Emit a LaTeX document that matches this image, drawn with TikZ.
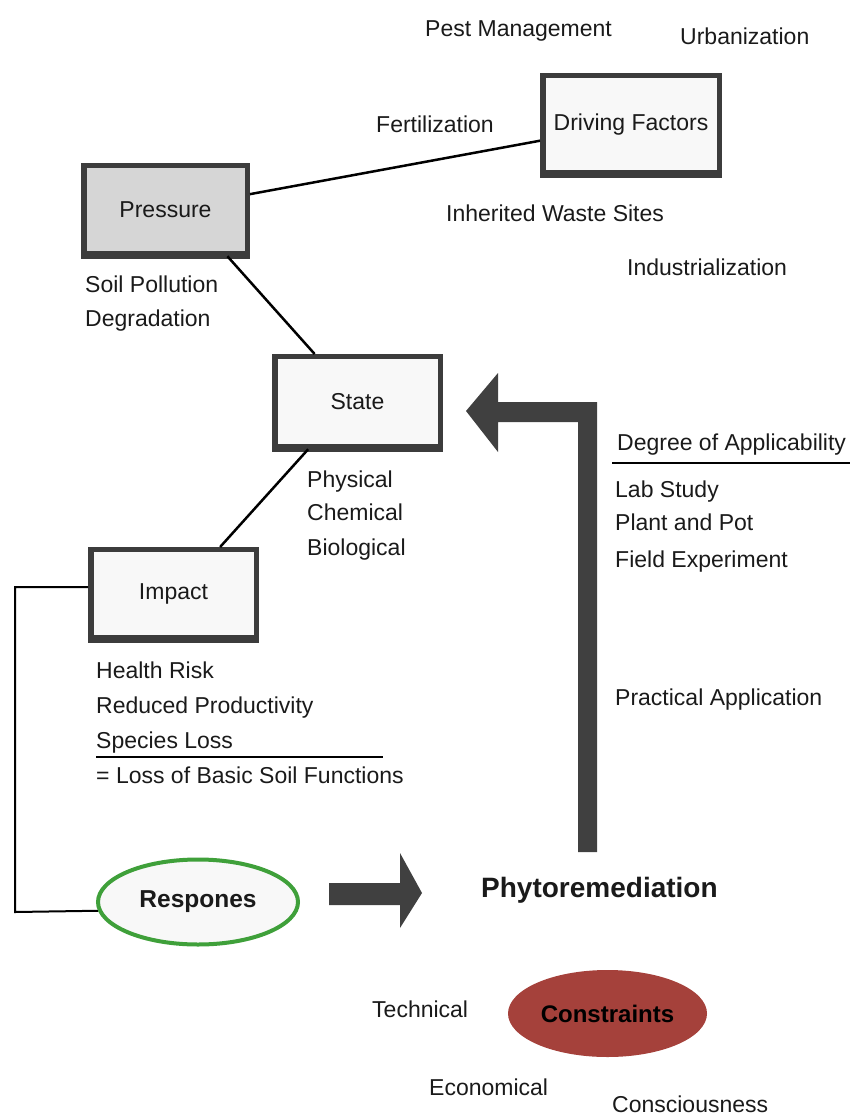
\documentclass[tikz,border=0pt]{standalone}
\usepackage{fontspec}
\setmainfont{Liberation Sans}
\usetikzlibrary{shapes.geometric,calc}
\definecolor{boxline}{HTML}{3C3C3C}
\definecolor{boxfill}{HTML}{F8F8F8}
\definecolor{pressfill}{HTML}{D6D6D6}
\definecolor{arrowgray}{HTML}{404040}
\definecolor{resgreen}{HTML}{3FA03A}
\definecolor{conred}{HTML}{A5413B}
\definecolor{txt}{HTML}{1A1A1A}
\tikzset{
  dbox/.style={rectangle, draw=boxline, line width=5.5pt, fill=boxfill, inner sep=0pt,
    text=txt, font=\fontsize{23}{27}\selectfont},
  lbl/.style={anchor=base west, inner sep=0pt, text=txt, font=\fontsize{23}{27}\selectfont},
  conn/.style={draw=black, line width=2.5pt},
  bracket/.style={draw=black, line width=2pt},
  rule/.style={draw=black, line width=1.6pt},
  blockarrow/.style={fill=arrowgray},
}
\begin{document}
\begin{tikzpicture}[x=1pt,y=-1pt]
\useasboundingbox (0,0) rectangle (853,1115);

% boxes
\node[dbox, fill=pressfill, minimum width=163.5pt, minimum height=87.75pt] (pressure) at (165.5,209.6) {Pressure};
\node[dbox, minimum width=176.5pt, minimum height=96.75pt] (driving) at (631,124.1) {Driving Factors};
\node[dbox, minimum width=165.5pt, minimum height=89.75pt] (state) at (357.5,401.6) {State};
\node[dbox, minimum width=165.5pt, minimum height=87.75pt] (impact) at (173.5,593.6) {Impact};
\foreach \b in {pressure,driving,state,impact}{
  \draw[boxline, line width=5.5pt] (\b.south west) -- (\b.south east);
}

% ellipses
\node[ellipse, draw=resgreen, line width=4pt, fill=boxfill, minimum width=200pt, minimum height=85pt,
  inner sep=0pt, text=txt, font=\bfseries\fontsize{24.5}{28}\selectfont] (respones) at (198,902) {Respones};
\node[ellipse, fill=conred, minimum width=199pt, minimum height=87pt, inner sep=0pt,
  text=black, font=\bfseries\fontsize{24}{28}\selectfont] (constraints) at (607.5,1013.5) {Constraints};

% connectors
\draw[conn] (pressure) -- (driving);
\draw[conn] (pressure.-37.8) -- (state.132.7);
\draw[conn] (state.224) -- (impact.45.9);
\coordinate (bl) at (15,912);
\draw[bracket] ([yshift=6.6pt]impact.west) -| (bl) -- (respones.185);

% block arrows
\fill[blockarrow] (329,883) -- (400,883) -- (400,853) -- (422,893) -- (400,928) -- (400,905) -- (329,905) -- cycle;
\fill[blockarrow] (597,852) -- (597,402) -- (498,402) -- (498,373) -- (466,411) -- (498,452) -- (498,422) -- (578,422) -- (578,852) -- cycle;

% labels
\node[lbl] (pest) at (425,37) {Pest Management};
\node[lbl] (urban) at (680,45) {Urbanization};
\node[lbl] (fert) at (376,133) {Fertilization};
\node[lbl] (waste) at (446,222) {Inherited Waste Sites};
\node[lbl] (indus) at (627,275) {Industrialization};
\node[lbl] (soilp) at (85,292) {Soil Pollution};
\node[lbl] (degr) at (85,326) {Degradation};
\node[lbl] (phys) at (307,487) {Physical};
\node[lbl] (chem) at (307,520) {Chemical};
\node[lbl] (bio) at (307,555) {Biological};
\node[lbl] (degree) at (617,450) {Degree of Applicability};
\draw[rule] (612,463) -- (850,463);
\node[lbl] (lab) at (615,497) {Lab Study};
\node[lbl] (pot) at (615,530) {Plant and Pot};
\node[lbl] (field) at (615,567) {Field Experiment};
\node[lbl] (pract) at (615,705) {Practical Application};
\node[lbl] (health) at (96,678) {Health Risk};
\node[lbl] (reduced) at (96,713) {Reduced Productivity};
\node[lbl] (species) at (96,748) {Species Loss};
\draw[rule] (96,757) -- (383,757);
\node[lbl] (lossf) at (96,783) {= Loss of Basic Soil Functions};
\node[lbl, font=\bfseries\fontsize{28}{32}\selectfont] (phyto) at (481,897) {Phytoremediation};
\node[lbl] (tech) at (372,1017) {Technical};
\node[lbl] (econ) at (429,1095) {Economical};
\node[lbl] (consc) at (612,1112) {Consciousness};
\end{tikzpicture}
\end{document}
